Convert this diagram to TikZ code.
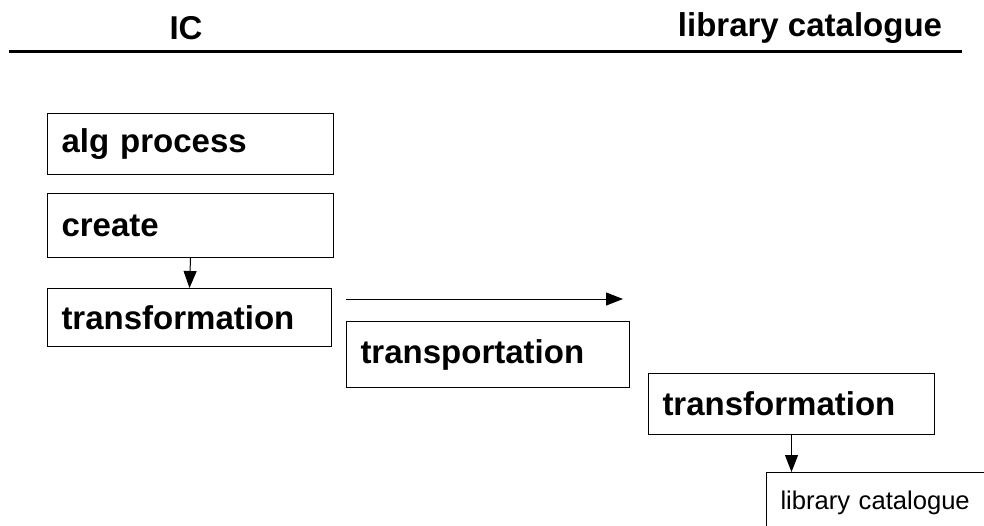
\documentclass[tikz,border=0pt]{standalone}
\usepackage{fontspec}
\setmainfont{Liberation Sans}
\usepackage{tikz}
\usetikzlibrary{arrows.meta,positioning}

\begin{document}
\begin{tikzpicture}[
      x=1pt, y=-1pt,
      big/.style={font=\fontsize{33}{40}\selectfont\bfseries},
      small/.style={font=\fontsize{25.6}{30}\selectfont},
      box/.style={rectangle, draw=black, line width=1pt, anchor=north west, inner xsep=14pt, inner ysep=0pt, align=left},
      arrow/.style={-{Triangle[length=17pt,width=13pt]}, line width=1pt}
    ]
    \clip (0,0) rectangle (984,525);
    \node[big] (ic) at (186,28) {IC};
    \node[big] (lib) at (810,28) {library catalogue};
    \draw[line width=3pt] (9,51) coordinate (hl) -- (962,51) coordinate (hr);

    \node[box, big, text width=258pt, minimum height=61pt] (alg) at (47,113) {alg process};
    \node[box, big, text width=258pt, minimum height=64pt] (create) at (47,193) {create};
    \node[box, big, text width=256pt, minimum height=58pt] (trans) at (47,288) {transformation};
    \node[box, big, text width=255pt, minimum height=66pt] (tport) at (346,321) {transportation};
    \node[box, big, text width=258pt, minimum height=61pt] (trans2) at (648,373) {transformation};
    \node[box, small, text width=230pt, minimum height=61pt] (libcat) at (766,472) {library catalogue};

    \coordinate (flowstart) at (346,299);
    \coordinate (flowend) at (623,299);

    \draw[arrow] (create.south) -- (trans.north);
    \draw[arrow] (flowstart) -- (flowend);
    \draw[arrow] (trans2.south) -- (trans2.south |- libcat.north);
  \end{tikzpicture}
\end{document}
